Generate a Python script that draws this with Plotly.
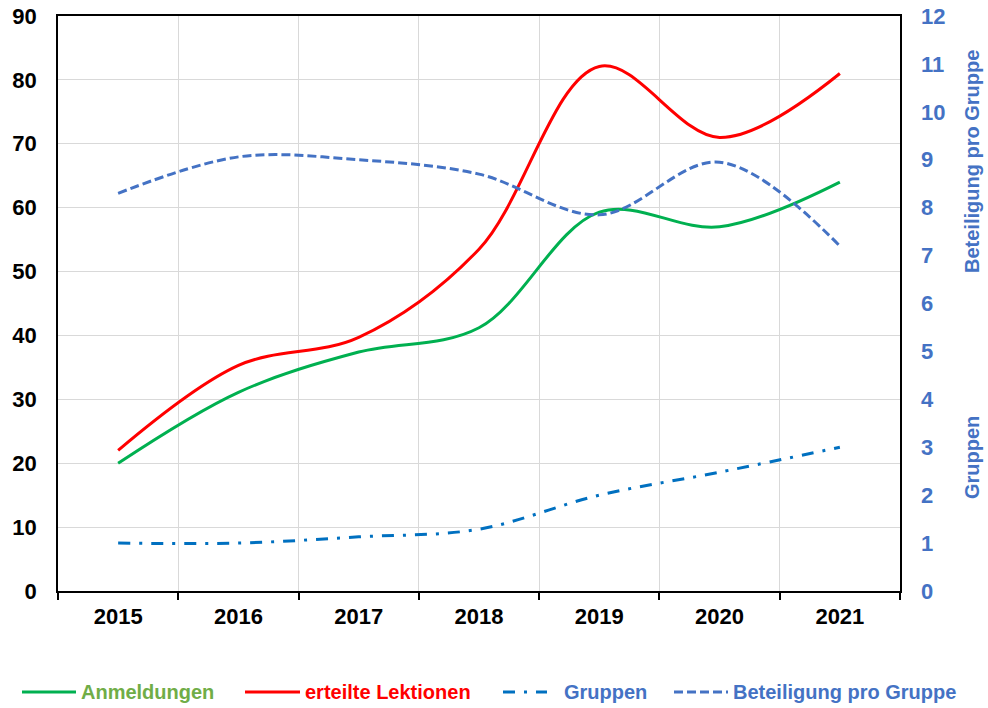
import plotly.graph_objects as go

years = ["2015", "2016", "2017", "2018", "2019", "2020", "2021"]
anmeldungen = [20, 31.1, 37.4, 41.2, 59.3, 57.0, 64.0]
lektionen = [22, 35.3, 39.7, 53.5, 82.1, 71.0, 81.0]
gruppen = [1.0, 1.0, 1.13, 1.29, 2.0, 2.48, 3.0]
beteiligung = [8.3, 9.06, 9.0, 8.7, 7.85, 8.95, 7.2]

left_ticks = list(range(0, 91, 10))
right_ticks = list(range(0, 13))

FONT = "Liberation Sans, Arial, sans-serif"
BLUE = "#4472C4"

W, H = 988, 708
# plot area in pixels
PL, PR, PT, PB = 58, 900, 16, 591


def px_x(v):
    return (v - PL) / (PR - PL)


def px_y(v):
    return (PB - v) / (PB - PT)


fig = go.Figure()
fig.add_trace(go.Scatter(x=years, y=anmeldungen, name="Anmeldungen", mode="lines",
                         line=dict(color="#00B050", width=3, shape="spline", smoothing=1)))
fig.add_trace(go.Scatter(x=years, y=lektionen, name="erteilte Lektionen", mode="lines",
                         line=dict(color="#FF0000", width=3, shape="spline", smoothing=1)))
fig.add_trace(go.Scatter(x=years, y=gruppen, name="Gruppen", mode="lines", yaxis="y2",
                         line=dict(color="#0070C0", width=3, shape="spline", smoothing=1,
                                   dash="12px,9px,3px,9px")))
fig.add_trace(go.Scatter(x=years, y=beteiligung, name="Beteiligung pro Gruppe", mode="lines", yaxis="y2",
                         line=dict(color=BLUE, width=3, shape="spline", smoothing=1, dash="9px,4px")))

fig.update_layout(
    width=W, height=H,
    paper_bgcolor="white", plot_bgcolor="white",
    margin=dict(l=PL, r=W - PR, t=PT, b=H - PB, autoexpand=False),
    font=dict(family=FONT, size=22, color="black"),
    showlegend=False,
    xaxis=dict(type="category", range=[-0.5, 6.5], tickson="boundaries", automargin=False,
               showgrid=True, gridcolor="#D9D9D9", gridwidth=1,
               showline=True, linecolor="black", linewidth=1.5, mirror=True,
               ticks="outside", ticklen=7, tickcolor="black", tickwidth=1.5,
               tickfont=dict(family=FONT, size=22, color="black", weight="bold"),
               ticklabelstandoff=5, ticklabeloverflow="allow"),
    yaxis=dict(range=[0, 90], tickvals=left_ticks, showgrid=True, gridcolor="#D9D9D9",
               showline=True, linecolor="black", linewidth=1.5, mirror=True, zeroline=False,
               automargin=False, ticks="", ticklabeloverflow="allow",
               tickfont=dict(family=FONT, size=22, color="black", weight="bold"),
               ticklabelstandoff=15),
    yaxis2=dict(range=[0, 12], tickvals=right_ticks, overlaying="y", side="right",
                showgrid=False, zeroline=False, showline=False, ticks="", automargin=False,
                ticklabeloverflow="allow",
                tickfont=dict(family=FONT, size=22, color=BLUE, weight="bold"),
                ticklabelstandoff=20),
)

LEG_Y = 692
legend_spec = [
    ("Anmeldungen", "#00B050", "solid", "#70AD47", 22, 76, 79),
    ("erteilte Lektionen", "#FF0000", "solid", "#FF0000", 245, 300, 303),
    ("Gruppen", "#0070C0", "12px,9px,3px,9px", BLUE, 503, 547, 562),
    ("Beteiligung pro Gruppe", BLUE, "9px,4px", BLUE, 674, 728, 731),
]
for name, lc, dash, tc, x0, x1, tx in legend_spec:
    fig.add_shape(type="line", xref="paper", yref="paper",
                  x0=px_x(x0), x1=px_x(x1), y0=px_y(LEG_Y), y1=px_y(LEG_Y),
                  line=dict(color=lc, width=3, dash=dash))
    fig.add_annotation(xref="paper", yref="paper", x=px_x(tx), y=px_y(LEG_Y),
                       xanchor="left", yanchor="middle", text="<b>" + name + "</b>",
                       showarrow=False, font=dict(family=FONT, size=20, color=tc))

# right axis titles
fig.add_annotation(xref="paper", yref="paper", x=px_x(972), y=px_y(162), textangle=-90,
                   xanchor="center", yanchor="middle",
                   text="<b>Beteiligung pro Gruppe</b>", showarrow=False,
                   font=dict(family=FONT, size=20, color=BLUE))
fig.add_annotation(xref="paper", yref="paper", x=px_x(972), y=px_y(458), textangle=-90,
                   xanchor="center", yanchor="middle",
                   text="<b>Gruppen</b>", showarrow=False,
                   font=dict(family=FONT, size=20, color=BLUE))

# remove the default page margin so the figure fills the window
fig.write_html("out.html", config={"displayModeBar": False},
               post_script="document.body.style.margin='0px';document.body.style.overflow='hidden';")
